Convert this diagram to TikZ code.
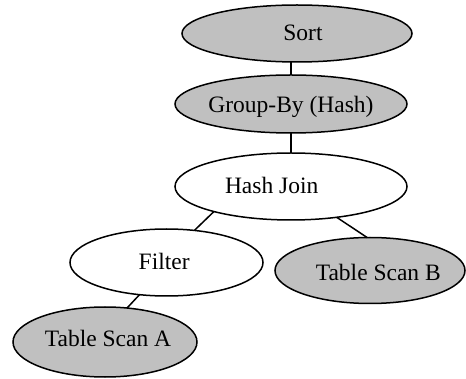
\documentclass[tikz,border=0pt]{standalone}
\usepackage{fontspec}
\setmainfont{Liberation Serif}
\usetikzlibrary{shapes.geometric}
\definecolor{nodegray}{RGB}{192,192,192}
\tikzset{
  opnode/.style={ellipse, draw=black, line width=1.5pt, inner sep=0pt, outer sep=0pt},
  grayop/.style={opnode, fill=nodegray},
  whiteop/.style={opnode, fill=white},
  lbl/.style={anchor=base, inner sep=0pt, font=\fontsize{23.5}{28}\selectfont},
  edge/.style={line width=1.5pt}
}
\begin{document}
\begin{tikzpicture}[x=1pt, y=-1pt]
\useasboundingbox (0,0) rectangle (466,379);
\node[grayop, minimum width=230pt, minimum height=57pt] (sort) at (297,33.5) {};
\node[grayop, minimum width=232pt, minimum height=58pt] (gb) at (291,104) {};
\node[whiteop, minimum width=232pt, minimum height=67pt] (hj) at (291,186.5) {};
\node[whiteop, minimum width=193pt, minimum height=67pt] (filter) at (166.5,262.5) {};
\node[grayop, minimum width=190pt, minimum height=66pt] (tsb) at (370,270.5) {};
\node[grayop, minimum width=184pt, minimum height=70pt] (tsa) at (105,342) {};

\node[lbl] (sortt) at (303,41) {Sort};
\node[lbl] (gbt) at (291,112.3) {Group-By (Hash)};
\node[lbl] (hjt) at (271.7,193.3) {Hash Join};
\node[lbl] (filtert) at (164.2,270) {Filter};
\node[lbl] (tsbt) at (378.3,281) {Table Scan B};
\node[lbl] (tsat) at (108,347) {Table Scan A};

\draw[edge] (gb.north) -- (gb.north |- sort.south);
\draw[edge] (gb.south) -- (hj.north);
\draw[edge] (hj.198) -- (filter.49);
\draw[edge] (hj.326) -- (tsb.95);
\draw[edge] (filter.230) -- (tsa.57);
\end{tikzpicture}
\end{document}
